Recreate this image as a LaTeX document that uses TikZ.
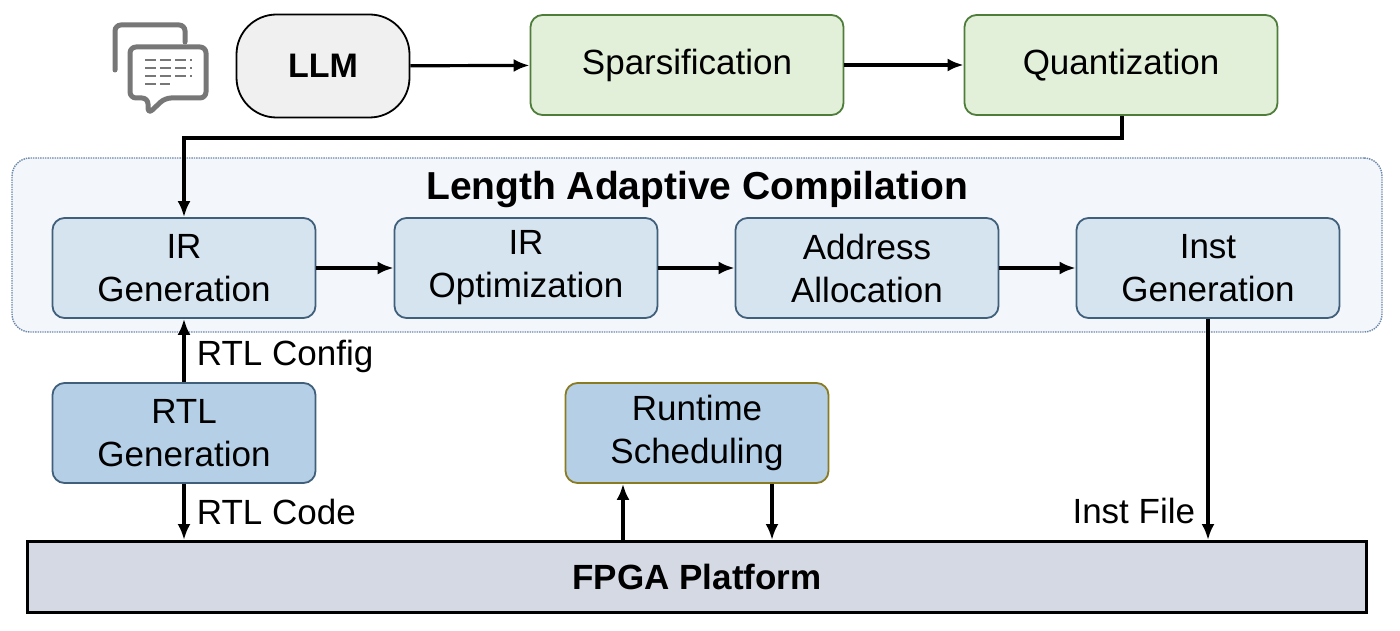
\documentclass[tikz,border=0pt]{standalone}
\usepackage{fontspec}
\setmainfont{Liberation Sans}
\usetikzlibrary{arrows.meta}
\definecolor{llmfill}{HTML}{F0F0F0}
\definecolor{grfill}{HTML}{E2EFD9}
\definecolor{grdraw}{HTML}{4E7D3A}
\definecolor{blfill}{HTML}{D6E4F0}
\definecolor{bldraw}{HTML}{3F5F7A}
\definecolor{rtlfill}{HTML}{B4CFE6}
\definecolor{oldraw}{HTML}{8A7A20}
\definecolor{cfill}{HTML}{F3F6FB}
\definecolor{cdraw}{HTML}{6A87A8}
\definecolor{fpfill}{HTML}{D5D9E3}
\definecolor{icon}{HTML}{777777}
\tikzset{
  box/.style={draw, rounded corners=12pt, line width=1.8pt, minimum width=263pt, minimum height=100pt, align=center, font=\fontsize{35}{43}\selectfont},
  arr/.style={-{Latex[length=16pt,width=13pt]}, line width=3.2pt},
  lbl/.style={font=\fontsize{35}{40}\selectfont}
}
\begin{document}
\begin{tikzpicture}[x=1pt,y=-1pt]
\useasboundingbox (0,0) rectangle (1400,631);

% container
\node[draw=cdraw, densely dotted, line width=1.4pt, fill=cfill, rounded corners=18pt, minimum width=1370pt, minimum height=174pt] (comp) at (697,245) {};
\node[font=\fontsize{39}{44}\selectfont\bfseries] (title) at (697,190) {Length Adaptive Compilation};

% top row
\node[box, draw=black, fill=llmfill, rounded corners=40pt, minimum width=173pt, minimum height=103pt, font=\fontsize{34}{40}\selectfont\bfseries] (llm) at (323,66) {LLM};
\node[box, draw=grdraw, fill=grfill, minimum width=313pt] (sp) at (687,65) {Sparsification};
\node[box, draw=grdraw, fill=grfill, minimum width=313pt] (qu) at (1121,65) {Quantization};

% compilation row
\node[box, draw=bldraw, fill=blfill] (irg) at (184,268) {IR\\Generation};
\node[box, draw=bldraw, fill=blfill] (iro) at (526,268) {IR\\Optimization};
\node[box, draw=bldraw, fill=blfill] (aa) at (867,268) {Address\\Allocation};
\node[box, draw=bldraw, fill=blfill] (ig) at (1208,268) {Inst\\Generation};

% lower boxes
\node[box, draw=bldraw, fill=rtlfill] (rtl) at (184,433) {RTL\\Generation};
\node[box, draw=oldraw, fill=rtlfill] (rs) at (697,433) {Runtime\\Scheduling};
\node[draw=black, line width=3pt, fill=fpfill, minimum width=1339pt, minimum height=71pt, font=\fontsize{35}{40}\selectfont\bfseries] (fpga) at (697,577) {FPGA Platform};

% connectors
\draw[arr] (llm) -- (sp);
\draw[arr] (sp) -- (qu);
\coordinate (q1) at (1122,138);
\draw[arr] (qu.south -| q1) -- (q1) -| (irg.north);
\draw[arr] (irg) -- (iro);
\draw[arr] (iro) -- (aa);
\draw[arr] (aa) -- (ig);
\draw[arr] (rtl) -- node[lbl, right=8pt, pos=.4] {RTL Config} (irg);
\draw[arr] (rtl.south) -- node[lbl, right=8pt, pos=.5] {RTL Code} (rtl.south |- fpga.north);
\coordinate (r1) at (623,0);
\coordinate (r2) at (772,0);
\draw[arr] (fpga.north -| r1) -- (rs.south -| r1);
\draw[arr] (rs.south -| r2) -- (fpga.north -| r2);
\draw[arr] (ig.south) -- node[lbl, left=8pt, pos=.87] {Inst File} (ig.south |- fpga.north);

% chat icon
\draw[icon, line width=5pt, line cap=round, rounded corners=6pt] (115,70) -- (115,25) -- (185,25) -- (185,42);
\draw[icon, line width=5pt, line join=round, rounded corners=6pt] (148,98) -- (130,98) -- (130,47) -- (206,47) -- (206,98) -- (165,98) -- (148,114) -- cycle;
\foreach \y/\a/\b in {60/145/192, 68/145/192, 76/145/192, 84/145/170}
  \draw[icon, line width=2.5pt, dash pattern=on 11pt off 4pt] (\a,\y) -- (\b,\y);
\end{tikzpicture}
\end{document}
